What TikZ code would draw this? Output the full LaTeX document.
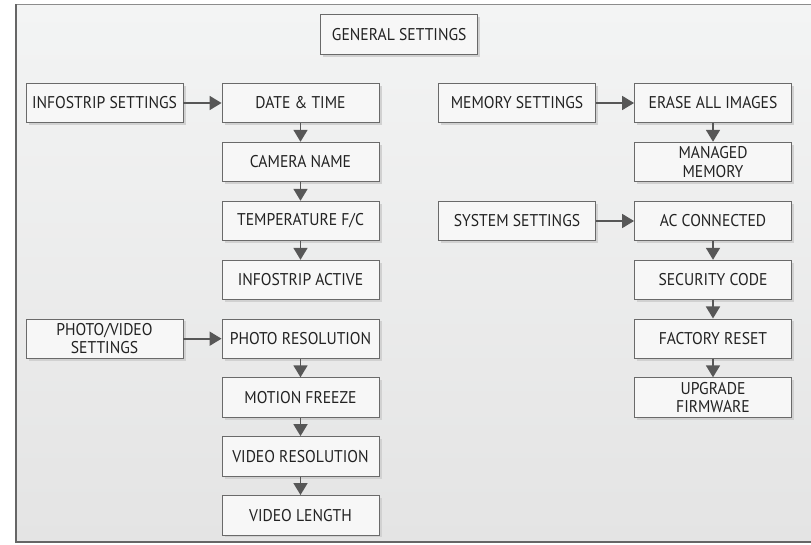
\documentclass[tikz,border=0pt]{standalone}
\usepackage{fontspec}
\setmainfont[FakeStretch=0.92]{PT Sans}
\usetikzlibrary{arrows.meta,shadows}
\definecolor{boxline}{HTML}{6A6A6A}
\definecolor{arrowc}{HTML}{575757}
\definecolor{txt}{HTML}{222222}
\definecolor{bgtop}{HTML}{F3F4F4}
\definecolor{bgbot}{HTML}{E4E4E4}
\tikzset{
  stepbox/.style={draw=boxline, line width=0.9pt, fill=white!97!black,
    minimum width=157pt, minimum height=39.5pt, inner sep=0pt,
    align=center, text=txt, font=\fontsize{17}{18.5}\selectfont,
    drop shadow={shadow xshift=2.5pt, shadow yshift=-2.5pt, fill=black!18, opacity=1}},
  flow/.style={draw=arrowc, line width=1.8pt,
    -{Triangle[length=12pt,width=14pt]}}
}
\begin{document}
\begin{tikzpicture}[x=1pt,y=-1pt]
\useasboundingbox (0,0) rectangle (811,545);
\shade[top color=bgtop, bottom color=bgbot] (16,4.5) rectangle (811,542);
\draw[black!45, line width=1.3pt] (811,4.5) -- (16,4.5);
\draw[black!60, line width=1.3pt] (16,4.5) -- (16,542) -- (811,542);

\node[stepbox] (gen) at (399.2,34.3) {GENERAL SETTINGS};

\node[stepbox] (info) at (104.5,103) {INFOSTRIP SETTINGS};
\node[stepbox] (dt) at (300.5,103) {DATE \& TIME};
\node[stepbox] (cam) at (300.5,162) {CAMERA NAME};
\node[stepbox] (temp) at (300.5,221) {TEMPERATURE F/C};
\node[stepbox] (act) at (300.5,280) {INFOSTRIP ACTIVE};

\node[stepbox] (pv) at (104.5,338.7) {PHOTO/VIDEO\\SETTINGS};
\node[stepbox] (pres) at (300.5,338.7) {PHOTO RESOLUTION};
\node[stepbox] (mf) at (300.5,397.5) {MOTION FREEZE};
\node[stepbox] (vres) at (300.5,456.3) {VIDEO RESOLUTION};
\node[stepbox] (vlen) at (300.5,515.2) {VIDEO LENGTH};

\node[stepbox] (mem) at (517,103) {MEMORY SETTINGS};
\node[stepbox] (erase) at (713,103) {ERASE ALL IMAGES};
\node[stepbox] (man) at (713,162) {MANAGED\\MEMORY};

\node[stepbox] (sys) at (517,221) {SYSTEM SETTINGS};
\node[stepbox] (ac) at (713,221) {AC CONNECTED};
\node[stepbox] (sec) at (713,280) {SECURITY CODE};
\node[stepbox] (fac) at (713,338.7) {FACTORY RESET};
\node[stepbox] (upg) at (713,397.5) {UPGRADE\\FIRMWARE};

\draw[flow] (info) -- (dt);
\draw[flow] (dt) -- (cam);
\draw[flow] (cam) -- (temp);
\draw[flow] (temp) -- (act);
\draw[flow] (pv) -- (pres);
\draw[flow] (pres) -- (mf);
\draw[flow] (mf) -- (vres);
\draw[flow] (vres) -- (vlen);
\draw[flow] (mem) -- (erase);
\draw[flow] (erase) -- (man);
\draw[flow] (sys) -- (ac);
\draw[flow] (ac) -- (sec);
\draw[flow] (sec) -- (fac);
\draw[flow] (fac) -- (upg);
\end{tikzpicture}
\end{document}
